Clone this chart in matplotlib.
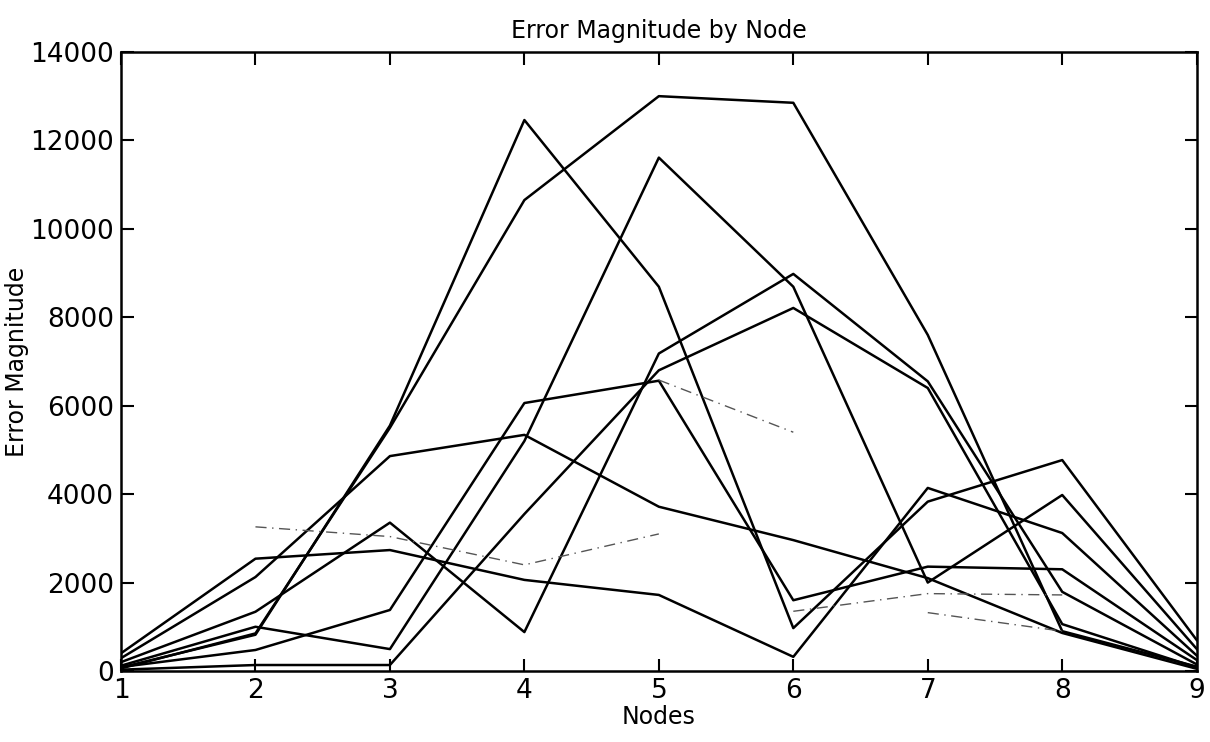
import numpy as np
import matplotlib
matplotlib.use("Agg")
import matplotlib.pyplot as plt

plt.rcParams['font.family'] = ['DejaVu Sans']

nodes = [1, 2, 3, 4, 5, 6, 7, 8, 9]

# solid runs, values
run_a = [60, 850, 5500, 10650, 13000, 12850, 7600, 900, 100]
run_b = [80, 820, 5550, 12460, 8690, 970, 3830, 4770, 700]
run_c = [120, 1000, 495, 5200, 11610, 8690, 2000, 3980, 500]
run_d = [200, 1340, 3355, 880, 7180, 8980, 6550, 1790, 150]
run_e = [30, 135, 135, 3550, 6800, 8210, 6400, 1060, 80]
run_f = [90, 475, 1380, 6060, 6565, 1600, 2360, 2300, 250]
run_g = [400, 2540, 2735, 2060, 1720, 320, 4140, 3120, 350]
run_h = [290, 2125, 4860, 5340, 3715, 2960, 2100, 860, 50]

# faint dash-dot runs (partial)
dd_nodes1 = [2, 3, 4, 5]
dd_vals1 = [3260, 3040, 2400, 3100]
dd_nodes2 = [5, 6]
dd_vals2 = [6580, 5400]
dd_nodes3 = [6, 7, 8]
dd_vals3 = [1350, 1750, 1720]
dd_nodes4 = [7, 8]
dd_vals4 = [1320, 900]

fig = plt.figure(figsize=(12.1, 7.42), dpi=100)
ax = fig.add_axes([0.1, 0.0957, 0.889, 0.8343])

for run in [run_a, run_b, run_c, run_d, run_e, run_f, run_g, run_h]:
    ax.plot(nodes, run, color='black', linewidth=1.8)

for xs, ys in [(dd_nodes1, dd_vals1), (dd_nodes2, dd_vals2),
               (dd_nodes3, dd_vals3), (dd_nodes4, dd_vals4)]:
    ax.plot(xs, ys, color='#555555', linewidth=1.0, linestyle=(0, (8, 4, 1, 4)))

ax.set_xlim(1, 9)
ax.set_ylim(0, 14000)
ax.set_xticks(nodes)
ax.set_yticks(np.arange(0, 14001, 2000))
ax.tick_params(direction='in', top=True, right=True, length=9, width=1.5,
               labelsize=19)
ax.tick_params(axis='x', pad=5)
ax.tick_params(axis='y', pad=5)
for sp in ax.spines.values():
    sp.set_linewidth(1.8)

ax.set_title('Error Magnitude by Node', fontsize=17, pad=10)
ax.set_xlabel('Nodes', fontsize=17, labelpad=1)
ax.set_ylabel('Error Magnitude', fontsize=17, labelpad=1)

fig.savefig('out.png', dpi=100)
